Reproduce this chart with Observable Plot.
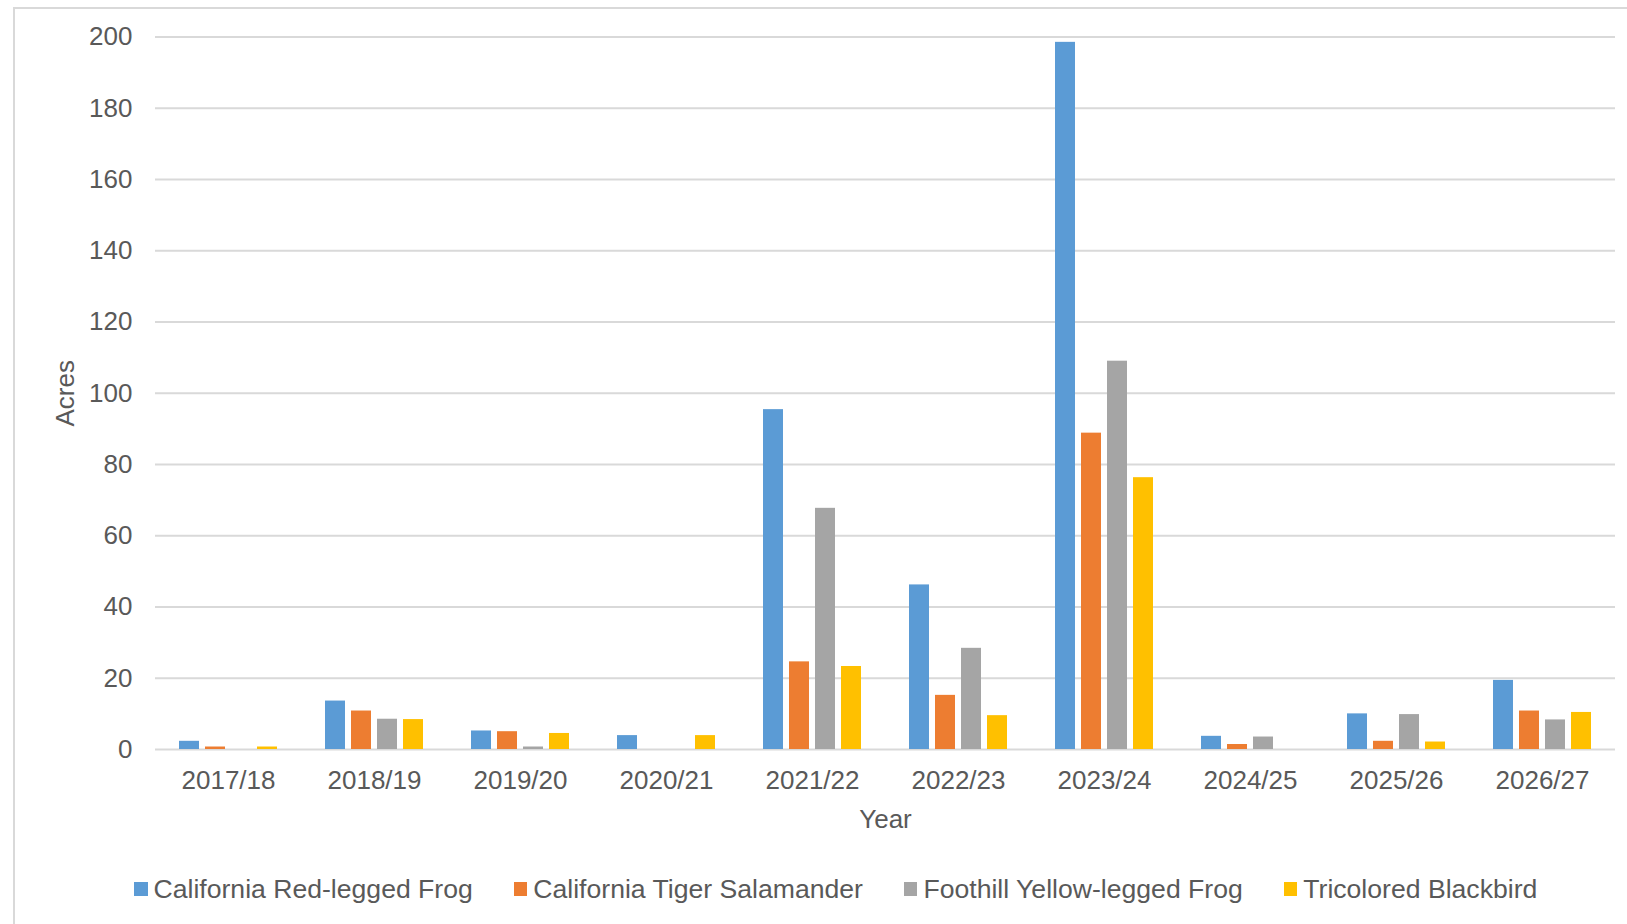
<!DOCTYPE html>
<html>
<head>
<meta charset="utf-8">
<script src="https://cdn.jsdelivr.net/npm/d3@7"></script>
<script src="https://cdn.jsdelivr.net/npm/@observablehq/plot@0.6"></script>
<style>
  html, body { margin: 0; padding: 0; background: #fff; }
  #wrap { position: relative; width: 1627px; height: 924px; overflow: hidden;
          font-family: "Liberation Sans", Arial, sans-serif; color: #595959; }
  #frame { position: absolute; left: 13px; top: 7px; width: 1700px; height: 1000px;
           border-left: 2px solid #d9d9d9; border-top: 2px solid #d9d9d9; pointer-events: none; }
  #chart { position: absolute; left: 0; top: 0; }
  #legend { position: absolute; left: 134px; top: 872px; display: flex; gap: 41px;
            font-size: 26.6px; line-height: 34px; white-space: nowrap; }
  #legend .item { display: flex; align-items: center; gap: 6px; }
  #legend .swatch { width: 13.5px; height: 13.5px; display: inline-block; }
</style>
</head>
<body>
<div id="wrap">
  <div id="chart"></div>
  <div id="frame"></div>
  <div id="legend"></div>
</div>
<script>
// Acres per year for each species
const years = ["2017/18", "2018/19", "2019/20", "2020/21", "2021/22", "2022/23", "2023/24", "2024/25", "2025/26", "2026/27"];
const species = ["California Red-legged Frog", "California Tiger Salamander", "Foothill Yellow-legged Frog", "Tricolored Blackbird"];
const redLeggedFrog = [2.3, 13.6, 5.2, 3.9, 95.4, 46.2, 198.5, 3.7, 10.0, 19.4];
const tigerSalamander = [0.7, 10.8, 5.0, 0, 24.6, 15.2, 88.8, 1.4, 2.3, 10.8];
const yellowLeggedFrog = [0, 8.5, 0.7, 0, 67.7, 28.4, 109.0, 3.5, 9.8, 8.3];
const tricoloredBlackbird = [0.7, 8.4, 4.5, 3.9, 23.3, 9.5, 76.3, 0, 2.1, 10.4];
const yTicks = [0, 20, 40, 60, 80, 100, 120, 140, 160, 180, 200];
const colors = ["#5b9bd5", "#ed7d31", "#a5a5a5", "#ffc000"];

const seriesValues = [redLeggedFrog, tigerSalamander, yellowLeggedFrog, tricoloredBlackbird];
const rows = [];
years.forEach((year, i) => {
  species.forEach((name, k) => {
    rows.push({year, species: name, acres: seriesValues[k][i]});
  });
});

const chart = Plot.plot({
  width: 1627,
  height: 840,
  marginLeft: 153,
  marginRight: 11,
  marginTop: 36.5,
  marginBottom: 91,
  style: {fontFamily: "'Liberation Sans', Arial, sans-serif", fontSize: "26px", color: "#595959", background: "transparent", overflow: "visible"},
  fx: {domain: years, padding: 0, label: null},
  x: {domain: species, paddingInner: 0.22, paddingOuter: 0.87, axis: null},
  y: {domain: [0, 200], label: null},
  color: {domain: species, range: colors},
  marks: [
    Plot.gridY(yTicks, {stroke: "#d9d9d9", strokeOpacity: 1, strokeWidth: 2}),
    Plot.barY(rows.filter(d => d.acres > 0), {fx: "year", x: "species", y: "acres", fill: "species"}),
    Plot.axisY(yTicks, {tickSize: 0, tickPadding: 23, label: "Acres", labelAnchor: "center", labelOffset: 100, labelArrow: "none"}),
    Plot.axisFx({anchor: "bottom", tickSize: 0, tickPadding: 21, label: "Year", labelAnchor: "center", labelOffset: 78, labelArrow: "none"})
  ]
});
document.getElementById("chart").appendChild(chart);

// Legend below the chart
const legend = d3.select("#legend");
species.forEach((name, k) => {
  const item = legend.append("div").attr("class", "item");
  item.append("span").attr("class", "swatch").style("background", colors[k]);
  item.append("span").text(name);
});
</script>
</body>
</html>
